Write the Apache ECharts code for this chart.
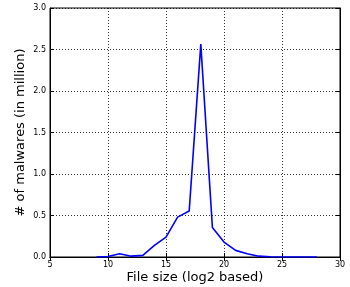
<!DOCTYPE html>
<html><head><meta charset="utf-8">
<script src="https://cdn.jsdelivr.net/npm/echarts@6/dist/echarts.min.js"></script>
<style>html,body{margin:0;padding:0;background:#fff}#c{width:350px;height:287px}</style>
</head><body><div id="c"></div>
<script>
const fileSizeLog2 = [9,10,11,12,13,14,15,16,17,18,19,20,21,22,23,24,25,26,27,28];
const malwaresMillion = [0,0.005,0.04,0.01,0.02,0.14,0.24,0.48,0.555,2.565,0.355,0.18,0.08,0.04,0.01,0.003,0,0,0,0];
const xTicks = [5,10,15,20,25,30];
const yTicks = [0,0.5,1.0,1.5,2.0,2.5,3.0];

const chart = echarts.init(document.getElementById('c'), null, {renderer:'canvas'});
const font = 'DejaVu Sans';
const split = {show:true, lineStyle:{color:'#000', type:[1,2], width:1, opacity:0.8}};
chart.setOption({
  animation:false,
  grid:{left:50, right:10, top:8, bottom:30, containLabel:false, outerBoundsMode:'none', show:true, borderColor:'#000', borderWidth:1},
  xAxis:[{
    type:'value', min:xTicks[0], max:xTicks[xTicks.length-1], interval:5,
    name:'File size (log2 based)', nameLocation:'middle', nameGap:14, nameMoveOverlap:false,
    nameTextStyle:{fontFamily:font, fontSize:13, color:'#000'},
    axisLine:{show:true, lineStyle:{color:'#000'}},
    axisTick:{show:true, inside:true, length:4, lineStyle:{color:'#000'}},
    axisLabel:{fontFamily:font, fontSize:8, color:'#000', margin:4},
    splitLine:split
  },{
    type:'value', position:'top', min:5, max:30, interval:5,
    axisLine:{show:true, lineStyle:{color:'#000'}},
    axisTick:{show:true, inside:true, length:4, lineStyle:{color:'#000'}},
    axisLabel:{show:false}, splitLine:{show:false}
  }],
  yAxis:[{
    type:'value', min:yTicks[0], max:yTicks[yTicks.length-1], interval:0.5,
    name:'# of malwares (in million)', nameLocation:'middle', nameGap:23, nameMoveOverlap:false,
    nameTextStyle:{fontFamily:font, fontSize:13, color:'#000'},
    axisLine:{show:true, lineStyle:{color:'#000'}},
    axisTick:{show:true, inside:true, length:4, lineStyle:{color:'#000'}},
    axisLabel:{fontFamily:font, fontSize:8, color:'#000', margin:4, formatter:v=>v.toFixed(1)},
    splitLine:split
  },{
    type:'value', position:'right', min:0, max:3, interval:0.5,
    axisLine:{show:true, lineStyle:{color:'#000'}},
    axisTick:{show:true, inside:true, length:4, lineStyle:{color:'#000'}},
    axisLabel:{show:false}, splitLine:{show:false}
  }],
  series:[{
    type:'line', data:fileSizeLog2.map((x,i)=>[x, malwaresMillion[i]]),
    showSymbol:false, symbol:'none',
    lineStyle:{color:'#0000ff', width:1.6}
  }]
});
</script></body></html>
